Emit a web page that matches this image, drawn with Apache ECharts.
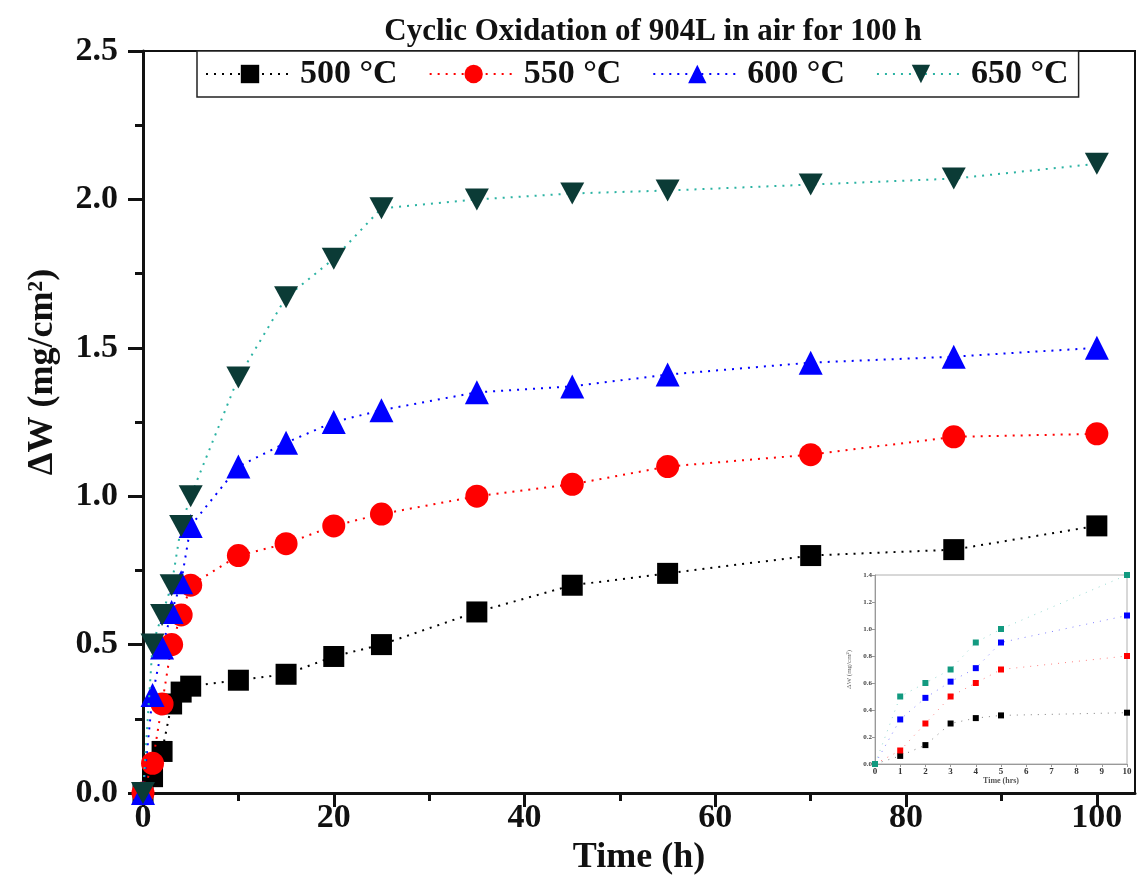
<!DOCTYPE html>
<html>
<head>
<meta charset="utf-8">
<script src="https://cdn.jsdelivr.net/npm/echarts@6/dist/echarts.min.js"></script>
<style>
html, body { margin: 0; padding: 0; background: #fff; }
#main { width: 1138px; height: 886px; }
</style>
</head>
<body>
<div id="main"></div>
<script>
// time points (h)
var times = [0, 1, 2, 3, 4, 5, 10, 15, 20, 25, 35, 45, 55, 70, 85, 100];
// mass gain, mg/cm2
var w500 = [0, 0.055, 0.14, 0.30, 0.34, 0.36, 0.38, 0.40, 0.46, 0.50, 0.61, 0.70, 0.74, 0.80, 0.82, 0.90];
var w550 = [0, 0.10, 0.30, 0.50, 0.60, 0.70, 0.80, 0.84, 0.90, 0.94, 1.00, 1.04, 1.10, 1.14, 1.20, 1.21];
var w600 = [0, 0.33, 0.49, 0.61, 0.71, 0.90, 1.10, 1.18, 1.25, 1.29, 1.35, 1.37, 1.41, 1.45, 1.47, 1.50];
var w650 = [0, 0.50, 0.60, 0.70, 0.90, 1.00, 1.40, 1.67, 1.80, 1.97, 2.00, 2.02, 2.03, 2.05, 2.07, 2.12];
// inset: first 10 h
var insetTimes = [0, 1, 2, 3, 4, 5, 10];
var in500 = [0, 0.06, 0.14, 0.30, 0.34, 0.36, 0.38];
var in550 = [0, 0.10, 0.30, 0.50, 0.60, 0.70, 0.80];
var in600 = [0, 0.33, 0.49, 0.61, 0.71, 0.90, 1.10];
var in650 = [0, 0.50, 0.60, 0.70, 0.90, 1.00, 1.40];

var xMajor = [0, 20, 40, 60, 80, 100];
var xMinor = [10, 30, 50, 70, 90];
var names = ['500 °C', '550 °C', '600 °C', '650 °C'];

var serif = "'Liberation Serif', 'Times New Roman', serif";

function pairs(xs, ys) {
    var out = [];
    for (var i = 0; i < xs.length; i++) out.push([xs[i], ys[i]]);
    return out;
}

var styles = [
    {sym: 'rect', size: 21, fill: '#000000', line: '#000000', small: '#000000'},
    {sym: 'circle', size: 23, fill: '#ff0000', line: '#ff0000', small: '#ff0000'},
    {sym: 'triangle', size: 24, fill: '#0000ff', line: '#0000ff', small: '#0000ff'},
    {sym: 'path://M0,0 L10,0 L5,9 Z', size: [24, 22], fill: '#0b3b36', line: '#2bb3a3', small: '#129a80'}
];
var mainData = [w500, w550, w600, w650];
var insetData = [in500, in550, in600, in650];

var series = [];
for (var i = 0; i < 4; i++) {
    series.push({
        name: names[i],
        type: 'line',
        xAxisIndex: 0,
        yAxisIndex: 0,
        data: pairs(times, mainData[i]),
        symbol: styles[i].sym,
        symbolSize: styles[i].size,
        itemStyle: { color: styles[i].fill },
        lineStyle: { color: styles[i].line, width: 2, type: [2, 6] },
        z: 2 + i
    });
}
for (var i = 0; i < 4; i++) {
    series.push({
        name: names[i],
        type: 'line',
        xAxisIndex: 2,
        yAxisIndex: 1,
        data: pairs(insetTimes, insetData[i]),
        symbol: 'rect',
        symbolSize: 6,
        itemStyle: { color: styles[i].small },
        lineStyle: { color: styles[i].line, width: 1, type: [1, 6], opacity: 0.5 },
        z: 10
    });
}

var chart = echarts.init(document.getElementById('main'), null, { renderer: 'canvas' });
chart.setOption({
    animation: false,
    backgroundColor: '#fff',
    title: {
        text: 'Cyclic Oxidation of 904L in air for 100 h',
        left: 648,
        textAlign: 'center',
        top: 11,
        textStyle: { fontFamily: serif, fontSize: 31, fontWeight: 'bold', color: '#111' }
    },
    legend: {
        data: names,
        left: 197,
        top: 51,
        padding: [6, 10, 6, 8],
        itemWidth: 88,
        itemHeight: 23,
        itemGap: 31,
        backgroundColor: '#fff',
        borderColor: '#222',
        borderWidth: 1.5,
        textStyle: { fontFamily: serif, fontSize: 34, fontWeight: 'bold', color: '#111', padding: [0, 0, 0, 1] }
    },
    grid: [
        { left: 143, top: 51, right: 3, bottom: 93, show: true, borderColor: '#111', borderWidth: 2 },
        { left: 875, top: 575, right: 11, bottom: 122, show: true, borderColor: '#b0b0b0', borderWidth: 1, backgroundColor: '#fff' }
    ],
    xAxis: [
        {
            gridIndex: 0, type: 'value', min: 0, max: 104, position: 'bottom',
            name: 'Time (h)', nameLocation: 'middle', nameGap: 42,
            nameTextStyle: { fontFamily: serif, fontSize: 36, fontWeight: 'bold', color: '#111' },
            axisLine: { lineStyle: { color: '#111', width: 3 } },
            axisTick: { customValues: xMajor, length: 14, lineStyle: { width: 3, color: '#111' } },
            axisLabel: { customValues: xMajor, margin: 8, fontFamily: serif, fontSize: 34, fontWeight: 'bold', color: '#111' },
            splitLine: { show: false }
        },
        {
            gridIndex: 0, type: 'value', min: 0, max: 104, position: 'bottom',
            axisLine: { show: false },
            axisTick: { customValues: xMinor, length: 8, lineStyle: { width: 3, color: '#111' } },
            axisLabel: { show: false },
            splitLine: { show: false }
        },
        {
            gridIndex: 1, type: 'value', min: 0, max: 10, interval: 1,
            name: 'Time (hrs)', nameLocation: 'middle', nameGap: 13,
            nameTextStyle: { fontFamily: serif, fontSize: 8, fontWeight: 'bold', color: '#555' },
            axisLine: { lineStyle: { color: '#999', width: 1 } },
            axisTick: { length: 3, lineStyle: { color: '#999' } },
            axisLabel: { margin: 3, fontFamily: serif, fontSize: 9, fontWeight: 'bold', color: '#333' },
            splitLine: { show: false }
        }
    ],
    yAxis: [
        {
            gridIndex: 0, type: 'value', min: 0, max: 2.5, interval: 0.5,
            name: 'ΔW (mg/cm²)', nameLocation: 'middle', nameGap: 82,
            nameTextStyle: { fontFamily: serif, fontSize: 36, fontWeight: 'bold', color: '#111', padding: [0, 0, 0, 100] },
            axisLine: { lineStyle: { color: '#111', width: 3 } },
            axisTick: { length: 15, lineStyle: { width: 3, color: '#111' } },
            minorTick: { show: true, splitNumber: 2, length: 8, lineStyle: { width: 3, color: '#111' } },
            axisLabel: {
                margin: 25, fontFamily: serif, fontSize: 34, fontWeight: 'bold', color: '#111',
                formatter: function (v) { return v.toFixed(1); }
            },
            splitLine: { show: false }
        },
        {
            gridIndex: 1, type: 'value', min: 0, max: 1.4, interval: 0.2,
            name: 'ΔW (mg/cm²)', nameLocation: 'middle', nameGap: 22,
            nameTextStyle: { fontFamily: serif, fontSize: 7, color: '#666' },
            axisLine: { lineStyle: { color: '#999', width: 1 } },
            axisTick: { length: 3, lineStyle: { color: '#999' } },
            axisLabel: {
                margin: 3, fontFamily: serif, fontSize: 7, fontWeight: 'bold', color: '#444',
                formatter: function (v) { return v.toFixed(1); }
            },
            splitLine: { show: false }
        }
    ],
    series: series
});
</script>
</body>
</html>
